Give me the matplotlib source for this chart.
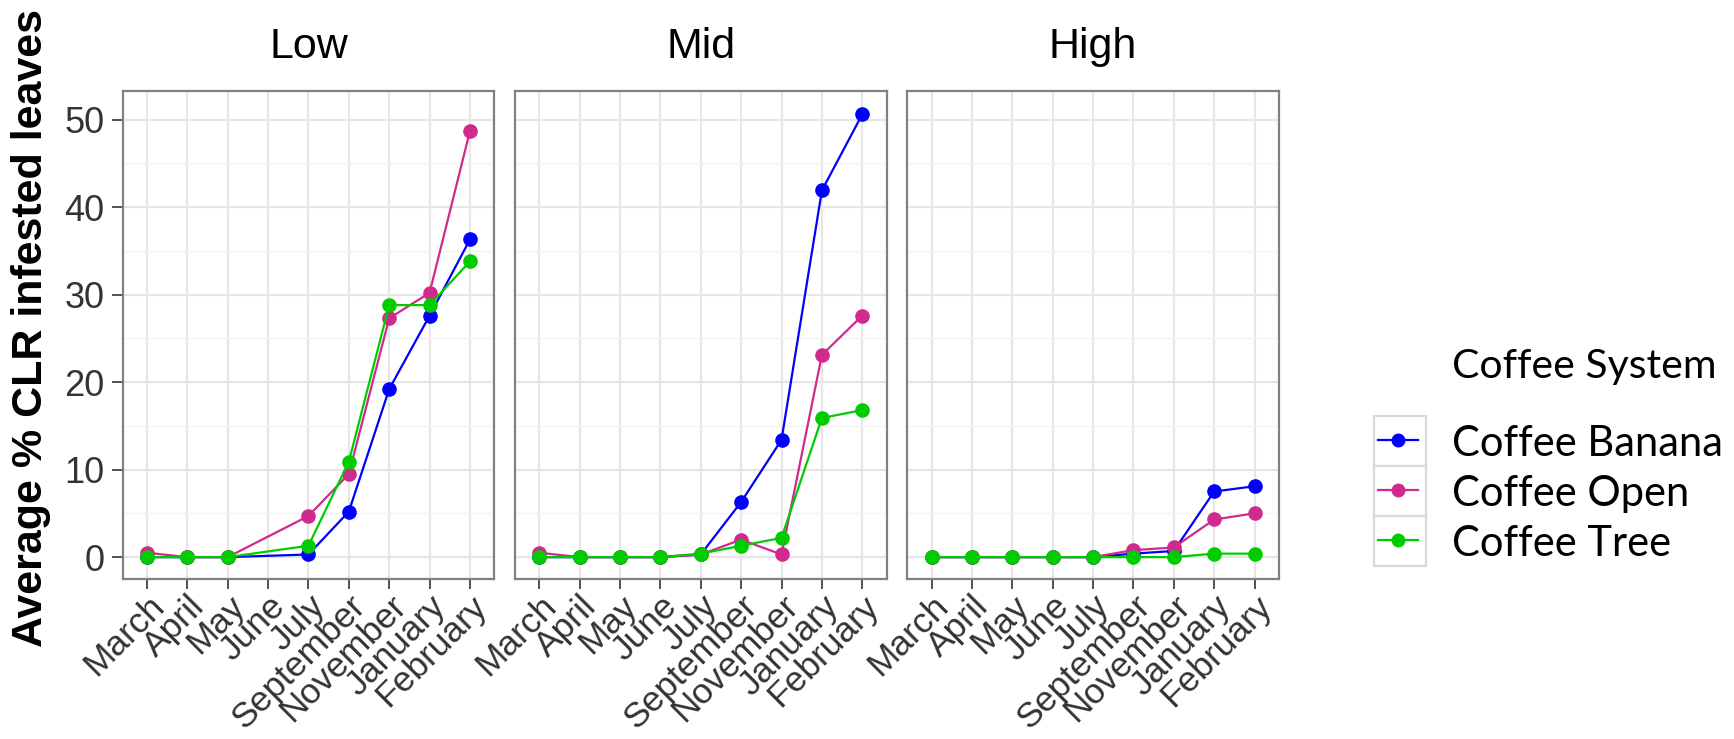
import numpy as np
import matplotlib
matplotlib.use("Agg")
import matplotlib.pyplot as plt
from matplotlib.patches import Rectangle
from matplotlib.lines import Line2D
from matplotlib.transforms import ScaledTranslation

nan = np.nan
months = ["March", "April", "May", "June", "July", "September", "November", "January", "February"]
elevations = ["Low", "Mid", "High"]
systems = ["Coffee Banana", "Coffee Open", "Coffee Tree"]
colors = ["#0000FF", "#D02A8E", "#00CC00"]

low_banana = [0.0, 0.0, 0.0, nan, 0.3, 5.2, 19.2, 27.6, 36.3]
low_open = [0.5, 0.0, 0.0, nan, 4.7, 9.5, 27.3, 30.2, 48.7]
low_tree = [0.0, 0.0, 0.0, nan, 1.3, 10.9, 28.8, 28.8, 33.8]

mid_banana = [0.0, 0.0, 0.0, 0.0, 0.3, 6.3, 13.4, 41.9, 50.6]
mid_open = [0.5, 0.0, 0.0, 0.0, 0.3, 2.0, 0.3, 23.1, 27.6]
mid_tree = [0.0, 0.0, 0.0, 0.0, 0.4, 1.3, 2.2, 15.9, 16.8]

high_banana = [0.0, 0.0, 0.0, 0.0, 0.0, 0.4, 0.7, 7.5, 8.1]
high_open = [0.0, 0.0, 0.0, 0.0, 0.0, 0.8, 1.1, 4.3, 5.0]
high_tree = [0.0, 0.0, 0.0, 0.0, 0.0, 0.0, 0.0, 0.4, 0.4]

yticks = [0, 10, 20, 30, 40, 50]
yminor = [5, 15, 25, 35, 45]

panel_data = {
    "Low": [low_banana, low_open, low_tree],
    "Mid": [mid_banana, mid_open, mid_tree],
    "High": [high_banana, high_open, high_tree],
}

W, H = 1734, 739
fig = plt.figure(figsize=(W / 100, H / 100), dpi=100)
fig.patch.set_facecolor("white")

ARIAL = "Liberation Sans"
LEG = "Lato"

panel_left_px = [122.7, 515.0, 907.3]
panel_w_px = 371.5
panel_top_px = 90.7
panel_bot_px = 579.0

label_shift = ScaledTranslation(-6 / 100, 5 / 100, fig.dpi_scale_trans)

x = np.arange(len(months))
for i, elev in enumerate(elevations):
    l = panel_left_px[i] / W
    b = 1 - panel_bot_px / H
    w = panel_w_px / W
    h = (panel_bot_px - panel_top_px) / H
    ax = fig.add_axes([l, b, w, h])
    ax.set_xlim(-0.6, len(months) - 0.4)
    ax.set_ylim(-2.5, 53.3)
    ax.set_xticks(x)
    ax.set_xticklabels(months, rotation=45, ha="right", va="top",
                       rotation_mode="anchor", fontsize=25.5, color="#333333",
                       family=ARIAL)
    for lab in ax.get_xticklabels():
        lab.set_transform(lab.get_transform() + label_shift)
    ax.set_yticks(yticks)
    ax.set_yticks(yminor, minor=True)
    ax.grid(which="major", color="#E6E6E6", lw=1.6)
    ax.grid(which="minor", axis="y", color="#F3F3F3", lw=1.0)
    ax.set_axisbelow(True)
    for s in ax.spines.values():
        s.set_color("#808080")
        s.set_linewidth(1.6)
    ax.tick_params(axis="x", which="major", length=7.5, width=1.2, color="#333333", pad=0)
    ax.tick_params(axis="y", which="major", length=8, width=1.2, color="#333333", pad=5)
    ax.tick_params(which="minor", length=0)
    if i == 0:
        ax.set_yticklabels([str(v) for v in yticks], fontsize=26, color="#333333", family=ARIAL)
    else:
        ax.tick_params(axis="y", which="both", length=0, labelleft=False)

    for vals, col in zip(panel_data[elev], colors):
        arr = np.array(vals, dtype=float)
        m = ~np.isnan(arr)
        ax.plot(x[m], arr[m], "-o", color=col, lw=1.6, ms=9.5, zorder=3)

    ax.text(0.5, 1.067, elev, transform=ax.transAxes, ha="center", va="baseline",
            fontsize=31, family=ARIAL, color="black")

fig.text(31 / W, 1 - 328 / H, "Average % CLR infested leaves", rotation=90,
         ha="center", va="center", fontsize=31, fontweight="bold", family=ARIAL)

# legend
fig.text(1452 / W, 1 - 378 / H, "Coffee System", ha="left", va="baseline",
         fontsize=29.5, family=LEG, color="black")
key_top = [416, 466, 516]
label_base = [456, 506, 556]
for kt, lb, name, col in zip(key_top, label_base, systems, colors):
    fig.add_artist(Rectangle((1374 / W, 1 - (kt + 50) / H), 52 / W, 50 / H,
                             transform=fig.transFigure, facecolor="white",
                             edgecolor="#D9D9D9", lw=1.6))
    yc = 1 - (kt + 24) / H
    fig.add_artist(Line2D([1378 / W, 1418 / W], [yc, yc], transform=fig.transFigure,
                          color=col, lw=1.6))
    fig.add_artist(Line2D([1398 / W], [yc], transform=fig.transFigure,
                          color=col, marker="o", ms=9, lw=0))
    fig.text(1452 / W, 1 - lb / H, name, ha="left", va="baseline",
             fontsize=30, family=LEG, color="black")

fig.savefig("out.png", dpi=100, facecolor="white")
